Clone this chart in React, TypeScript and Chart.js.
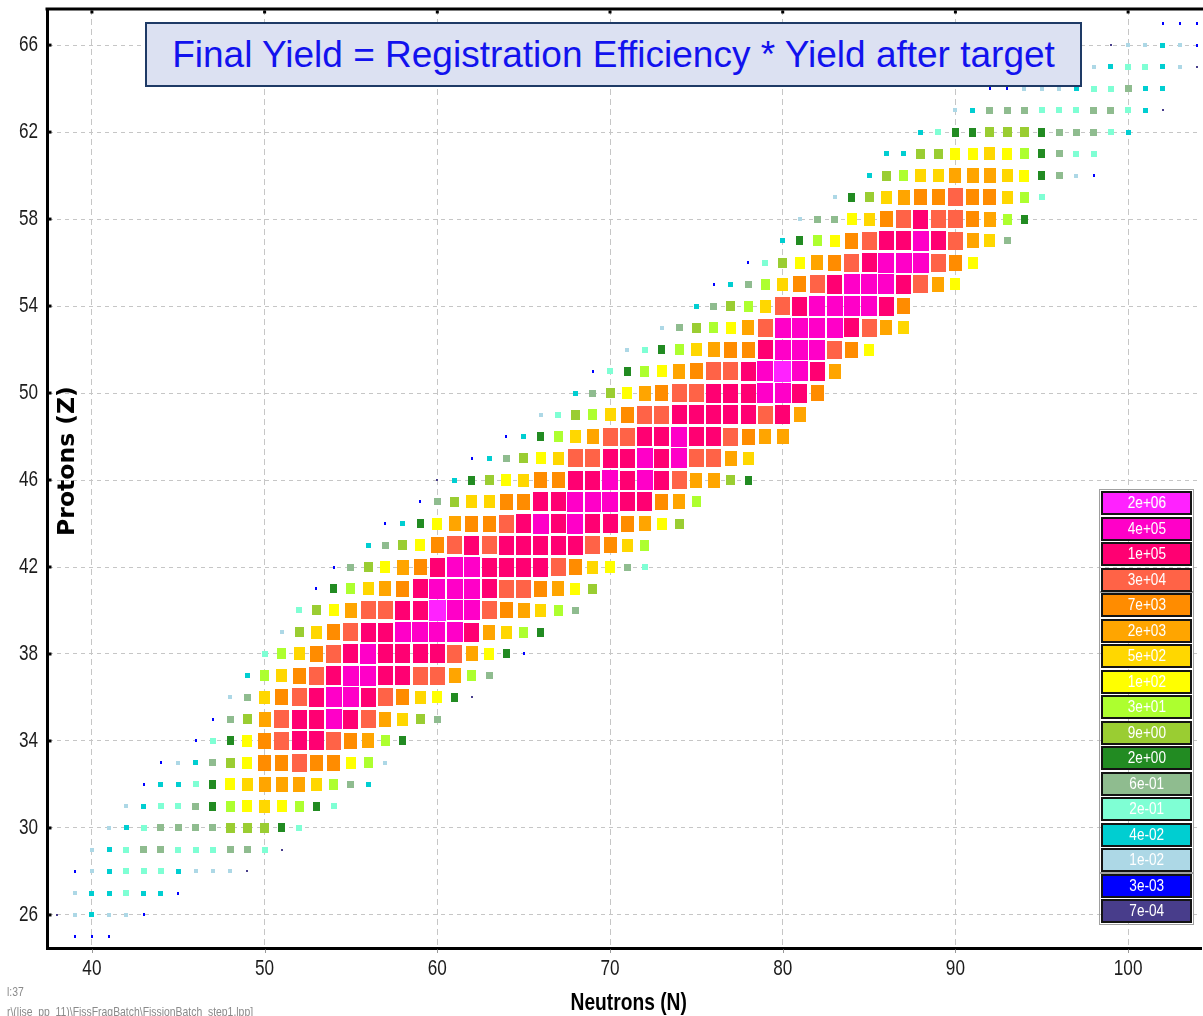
import { useEffect, useRef } from "react";
import { Chart, registerables } from "chart.js";

Chart.register(...registerables);

// ---------------- data ----------------
const X_TICKS = [40, 50, 60, 70, 80, 90, 100];
const Y_TICKS = [26, 30, 34, 38, 42, 46, 50, 54, 58, 62, 66];

// yield classes (legend), from highest to lowest
const LEVEL_CODES = "ABCDEFGHIJKLMNOPQ";
const LEVEL_LABELS = [
  "2e+06", "4e+05", "1e+05", "3e+04", "7e+03", "2e+03", "5e+02", "1e+02", "3e+01",
  "9e+00", "2e+00", "6e-01", "2e-01", "4e-02", "1e-02", "3e-03", "7e-04",
];
const LEVEL_COLORS = [
  "#FF22FF", "#FF00C8", "#FF0072", "#FF6347", "#FF8C00", "#FFA500", "#FFD700", "#FFFF00",
  "#ADFF2F", "#9ACD32", "#228B22", "#8FBC8F", "#7FFFD4", "#00CED1", "#ADD8E6", "#0000FF", "#483D8B",
];

// one row per proton number Z: first neutron number and the yield class of each following N
const Z_VALUES = [
  25, 26, 27, 28, 29, 30, 31, 32, 33, 34, 35, 36, 37, 38, 39, 40, 41, 42, 43, 44, 45, 46,
  47, 48, 49, 50, 51, 52, 53, 54, 55, 56, 57, 58, 59, 60, 61, 62, 63, 64, 65, 66, 67,
];
const ROW_START_N = [
  39, 38, 39, 39, 40, 41, 42, 43, 44, 46, 47, 48, 49, 50, 51, 52, 53, 54, 56, 57, 59, 60,
  62, 64, 66, 68, 69, 71, 73, 75, 76, 78, 80, 81, 83, 85, 86, 88, 90, 92, 98, 99, 102,
];
const ROW_LEVELS = [
  "PPP",
  "QONOOP",
  "ONNMNNP",
  "PONMMMNOOOQ",
  "ONMLLMMMLLMQ",
  "ONMLLLLJJJKM",
  "ONMMLKIHGHIKM",
  "PNNMKHGFFFGILN",
  "PONLJHEEDEEHIO",
  "PMKHEDCCDEFIK",
  "PLJFDCCBCDFGJL",
  "OLGEDCBBCDEGHKQ",
  "NIGEDCBBCCDDFIL",
  "MIGEDCBCCCCDFHKP",
  "OJGEDCCBBBBCFGIK",
  "MJHFDDCCABBDEFGIL",
  "PKIGFECBBBCDDEFHJ",
  "PLJHFECBBCCCCDEGHLM",
  "NLJHEDCDCCCCCDEGI",
  "PNKHFEEDCBCBCCEFHJ",
  "PLJGGEECCBBBCCEFI",
  "QNKJHGEECCBCBCDFFJK",
  "PNLJHGDDCCBCBDDFG",
  "PNKIGFDDCCBCCDEFF",
  "OMJIGEDDCCCCCDCF",
  "NLJHFEDDCCCBBCE",
  "PMKIHFEDDCBABCF",
  "OMKIGFEECBBBDEH",
  "OLJIHFDBBBBCDFG",
  "NLJIGDCBBBBCE",
  "PNLIGEDCBBBCDFH",
  "PMJHFEDCBBBDEH",
  "NKIHEDCCBCDFGL",
  "OLLHGEDCDDEFIK",
  "OKJGFEEDEEGIM",
  "NJIGGFFFGHKLOP",
  "NNJJHHGHIKLMM",
  "NMKKJJJKLLLMN",
  "ONLLLMMMLLMNQ",
  "PPOOONMMLNN",
  "ONMMNOQ",
  "QOONOP",
  "PPP",
];

const TITLE = "Final Yield = Registration Efficiency * Yield after target";
const X_TITLE = "Neutrons (N)";
const Y_TITLE = "Protons (Z)";
const FOOT_1 = "l:37";
const FOOT_2 = "r\\(lise_pp_11)\\FissFragBatch\\FissionBatch_step1.lpp]";

// ---------------- style ----------------
const W = 1203;
const H = 1016;
const X_MIN = 37.4;
const X_MAX = 104.22;
const Y_MIN = 24.48;
const Y_MAX = 67.66;
const MARK_W = [17, 16, 15, 15, 13, 12, 11, 10, 9, 9, 7, 7, 6, 5, 4, 2, 2];
const MARK_H = [21, 20, 19, 18, 16, 15, 13, 12, 11, 10, 9, 7, 6, 5, 4, 3, 2];

function makeMark(color: string, w: number, h: number) {
  const c = document.createElement("canvas");
  c.width = w;
  c.height = h;
  const g = c.getContext("2d")!;
  g.fillStyle = color;
  g.fillRect(0, 0, w, h);
  return c;
}

function buildCells() {
  const byLevel: { x: number; y: number }[][] = LEVEL_LABELS.map(() => []);
  Z_VALUES.forEach((z, r) => {
    const start = ROW_START_N[r];
    const codes = ROW_LEVELS[r];
    for (let i = 0; i < codes.length; i++) {
      const lvl = LEVEL_CODES.indexOf(codes[i]);
      if (lvl >= 0) byLevel[lvl].push({ x: start + i, y: z });
    }
  });
  return byLevel;
}

const framePlugin = {
  id: "frame",
  afterDraw(chart: any) {
    const { ctx, chartArea: a, scales } = chart;
    ctx.save();
    // top border
    ctx.strokeStyle = "#000";
    ctx.lineWidth = 3;
    ctx.beginPath();
    ctx.moveTo(a.left - 1.5, a.top);
    ctx.lineTo(a.right + 2, a.top);
    ctx.stroke();
    // small tick marks
    ctx.fillStyle = "#000";
    for (const v of X_TICKS) {
      const x = scales.x.getPixelForValue(v);
      ctx.fillRect(x - 1.5, a.top + 1.5, 3, 3);
    }
    for (const v of Y_TICKS) {
      const y = scales.y.getPixelForValue(v);
      ctx.fillRect(a.left + 1.5, y - 1.5, 3, 3);
    }
    ctx.strokeStyle = "#999";
    ctx.lineWidth = 1;
    for (const v of X_TICKS) {
      const x = Math.round(scales.x.getPixelForValue(v)) + 0.5;
      ctx.beginPath();
      ctx.moveTo(x, a.bottom + 1.5);
      ctx.lineTo(x, a.bottom + 5);
      ctx.stroke();
    }
    // tick labels (condensed)
    ctx.fillStyle = "#1c1c1c";
    ctx.font = '22px "Liberation Sans", Arial, sans-serif';
    ctx.textAlign = "center";
    ctx.textBaseline = "middle";
    for (const v of X_TICKS) {
      const x = scales.x.getPixelForValue(v);
      ctx.save();
      ctx.translate(x, a.bottom + 21);
      ctx.scale(0.78, 1);
      ctx.fillText(String(v), 0, 0);
      ctx.restore();
    }
    ctx.textAlign = "right";
    for (const v of Y_TICKS) {
      const y = scales.y.getPixelForValue(v);
      ctx.save();
      ctx.translate(a.left - 9, y);
      ctx.scale(0.78, 1);
      ctx.fillText(String(v), 0, 0);
      ctx.restore();
    }
    ctx.restore();
  },
};

export default function App() {
  const ref = useRef<HTMLCanvasElement | null>(null);

  useEffect(() => {
    const canvas = ref.current;
    if (!canvas) return;
    const cells = buildCells();
    const datasets = cells.map((pts, i) => ({
      label: LEVEL_LABELS[i],
      data: pts,
      pointStyle: makeMark(LEVEL_COLORS[i], MARK_W[i], MARK_H[i]) as any,
      pointRadius: 2,
      pointHoverRadius: 2,
      pointBorderWidth: 0,
      backgroundColor: LEVEL_COLORS[i],
      showLine: false,
    }));
    const gridStyle = { color: "#c6c6c6", lineWidth: 1, drawTicks: false };
    const chart = new Chart(canvas, {
      type: "scatter",
      data: { datasets },
      options: {
        responsive: false,
        animation: false,
        devicePixelRatio: 1,
        events: [],
        layout: { padding: { top: 9, left: 0, right: 0, bottom: 0 } },
        plugins: { legend: { display: false }, tooltip: { enabled: false } },
        scales: {
          x: {
            type: "linear",
            min: X_MIN,
            max: X_MAX,
            afterBuildTicks: (s: any) => {
              s.ticks = X_TICKS.map((v) => ({ value: v }));
            },
            afterFit: (s: any) => {
              s.height = 68;
            },
            ticks: { display: false },
            grid: gridStyle,
            border: { display: true, color: "#000", width: 3, dash: [6, 4] },
          },
          y: {
            type: "linear",
            min: Y_MIN,
            max: Y_MAX,
            afterBuildTicks: (s: any) => {
              s.ticks = Y_TICKS.map((v) => ({ value: v }));
            },
            afterFit: (s: any) => {
              s.width = 47;
            },
            ticks: { display: false },
            grid: gridStyle,
            border: { display: true, color: "#000", width: 3, dash: [4, 4] },
          },
        },
      } as any,
      plugins: [framePlugin],
    });
    return () => chart.destroy();
  }, []);

  const legendTop = 491;
  const legendStep = 25.5;

  return (
    <div
      style={{
        position: "absolute",
        left: 0,
        top: 0,
        width: W,
        height: H,
        overflow: "hidden",
        background: "#fff",
      }}
    >
      <canvas ref={ref} width={W} height={H} style={{ position: "absolute", left: 0, top: 0 }} />

      {/* title box */}
      <div
        style={{
          position: "absolute",
          left: 145,
          top: 22,
          width: 937,
          height: 65,
          boxSizing: "border-box",
          background: "#DCE1F2",
          border: "2px solid #1E3A66",
          color: "#1212EE",
          fontFamily: '"Liberation Sans", Arial, sans-serif',
          fontSize: 37,
          lineHeight: "61px",
          textAlign: "center",
          whiteSpace: "nowrap",
        }}
      >
        {TITLE}
      </div>

      {/* legend */}
      {[
        [0, 4],
        [4, 15],
        [15, 17],
      ].map(([s, e], gi) => (
        <div
          key={"g" + gi}
          style={{
            position: "absolute",
            left: 1099,
            top: legendTop + s * legendStep - 2,
            width: 95,
            height: (e - s) * legendStep + 2,
            boxSizing: "border-box",
            border: "1px solid #a0a0a0",
          }}
        />
      ))}
      {LEVEL_LABELS.map((lab, i) => (
        <div
          key={lab}
          style={{
            position: "absolute",
            left: 1101,
            top: legendTop + i * legendStep,
            width: 91,
            height: 24,
            boxSizing: "border-box",
            background: LEVEL_COLORS[i],
            border: "2px solid #141414",
            color: "#fff",
            fontFamily: '"Liberation Sans", Arial, sans-serif',
            fontSize: 17,
            lineHeight: "20px",
            textAlign: "center",
            whiteSpace: "nowrap",
          }}
        >
          <span style={{ display: "inline-block", transform: "scaleX(0.8)" }}>{lab}</span>
        </div>
      ))}

      {/* y title */}
      <div
        style={{
          position: "absolute",
          left: 66 - 100,
          top: 461 - 13,
          width: 200,
          height: 26,
          lineHeight: "26px",
          textAlign: "center",
          transform: "rotate(-90deg)",
          fontFamily: '"DejaVu Sans", sans-serif',
          fontWeight: "bold",
          fontSize: 23.5,
          color: "#000",
          whiteSpace: "nowrap",
        }}
      >
        {Y_TITLE}
      </div>

      {/* x title */}
      <div
        style={{
          position: "absolute",
          left: 529,
          top: 988,
          width: 200,
          height: 30,
          lineHeight: "28px",
          textAlign: "center",
          fontFamily: '"Liberation Sans", Arial, sans-serif',
          fontWeight: "bold",
          fontSize: 24,
          color: "#000",
          whiteSpace: "nowrap",
        }}
      >
        <span style={{ display: "inline-block", transform: "scaleX(0.8)" }}>{X_TITLE}</span>
      </div>

      {/* footer path text */}
      <div
        style={{
          position: "absolute",
          left: 7,
          top: 984,
          fontFamily: '"Liberation Sans", Arial, sans-serif',
          fontSize: 13,
          lineHeight: "16px",
          color: "#8a8a8a",
          whiteSpace: "nowrap",
          transformOrigin: "0 0",
          transform: "scaleX(0.8)",
        }}
      >
        <div>{FOOT_1}</div>
        <div style={{ marginTop: 4 }}>{FOOT_2}</div>
      </div>
    </div>
  );
}
